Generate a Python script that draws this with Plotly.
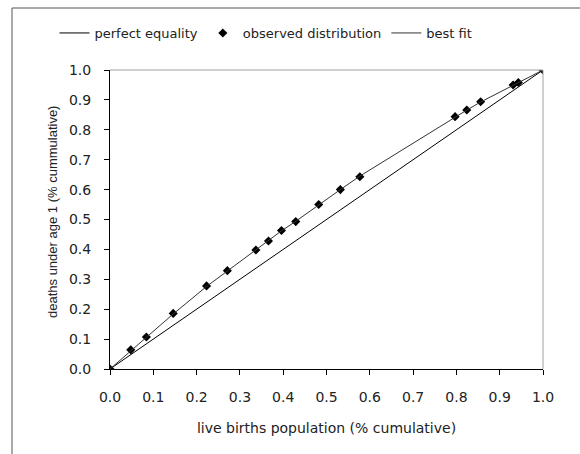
import plotly.graph_objects as go

# Data
equality_x = [0.0, 1.0]
equality_y = [0.0, 1.0]

observed_x = [0.0, 0.048, 0.084, 0.146, 0.223, 0.271, 0.337, 0.366, 0.396, 0.429,
              0.482, 0.532, 0.577, 0.797, 0.824, 0.856, 0.931, 0.943, 1.0]
observed_y = [0.0, 0.064, 0.107, 0.186, 0.278, 0.329, 0.398, 0.428, 0.463, 0.493,
              0.550, 0.600, 0.643, 0.844, 0.866, 0.894, 0.950, 0.958, 1.0]

fit_x = [0.0, 0.048, 0.084, 0.146, 0.223, 0.271, 0.337, 0.366, 0.396, 0.429,
         0.482, 0.532, 0.577, 0.797, 0.824, 0.856, 0.931, 0.943, 1.0]
fit_y = [0.0, 0.060, 0.104, 0.184, 0.276, 0.328, 0.398, 0.428, 0.462, 0.494,
         0.550, 0.600, 0.645, 0.843, 0.866, 0.893, 0.948, 0.957, 1.0]

tick_vals = [0.0, 0.1, 0.2, 0.3, 0.4, 0.5, 0.6, 0.7, 0.8, 0.9, 1.0]
tick_text = ["0.0", "0.1", "0.2", "0.3", "0.4", "0.5", "0.6", "0.7", "0.8", "0.9", "1.0"]

x_title = "live births population (% cumulative)"
y_title = "deaths under age 1 (% cummulative)"

FONT = "DejaVu Sans, sans-serif"

fig = go.Figure()
fig.add_trace(go.Scatter(x=equality_x, y=equality_y, mode="lines",
                         name="perfect equality",
                         line=dict(color="black", width=1)))
fig.add_trace(go.Scatter(x=observed_x, y=observed_y, mode="markers",
                         name="observed distribution",
                         marker=dict(symbol="diamond", size=7, color="black")))
fig.add_trace(go.Scatter(x=fit_x, y=fit_y, mode="lines",
                         name="best fit",
                         line=dict(color="#333333", width=1)))

L, R, T, B = 110, 37, 70, 85
W, H = 580, 454
pw, ph = W - L - R, H - T - B

shapes = [
    dict(type="rect", xref="paper", yref="paper",
         x0=(12 - L) / pw, x1=(W + 20 - L) / pw,
         y0=-(H + 20 - T - ph) / ph, y1=1 + (T - 8) / ph,
         line=dict(color="#555555", width=1), fillcolor="rgba(0,0,0,0)", layer="below"),
    dict(type="line", xref="paper", yref="paper", x0=0, x1=1, y0=1, y1=1,
         line=dict(color="#a0a0a0", width=1)),
    dict(type="line", xref="paper", yref="paper", x0=1, x1=1, y0=0, y1=1,
         line=dict(color="#a0a0a0", width=1)),
]

annotations = [
    dict(text=y_title, textangle=-90, showarrow=False,
         xref="paper", yref="paper",
         x=(52 - L) / pw, y=(H - B - 212) / ph,
         xanchor="center", yanchor="middle",
         font=dict(family="Liberation Sans, Arial, sans-serif", size=13, color="#222222")),
]

fig.update_layout(
    width=W, height=H,
    margin=dict(l=L, r=R, t=T, b=B, pad=0),
    paper_bgcolor="white", plot_bgcolor="white",
    font=dict(family=FONT, size=14, color="#222222"),
    showlegend=True,
    legend=dict(orientation="h", x=(266 - L) / pw, xanchor="center", y=1 + (T - 33) / ph, yanchor="middle",
                font=dict(size=13, family=FONT, color="#222222"),
                itemwidth=30, tracegroupgap=0, bgcolor="rgba(0,0,0,0)"),
    xaxis=dict(range=[0, 1], tickvals=tick_vals, ticktext=tick_text,
               showgrid=False, zeroline=False, showline=True, linecolor="black",
               linewidth=1, ticks="outside", ticklen=5, tickcolor="black",
               tickfont=dict(size=14), ticklabelstandoff=10,
               title=dict(text=x_title, font=dict(size=14), standoff=19)),
    yaxis=dict(range=[0, 1], tickvals=tick_vals, ticktext=tick_text,
               showgrid=False, zeroline=False, showline=True, linecolor="black",
               linewidth=1, ticks="outside", ticklen=5, tickcolor="black",
               tickfont=dict(size=14), ticklabelstandoff=10),
    shapes=shapes,
    annotations=annotations,
)

fig.write_html("out.html")
